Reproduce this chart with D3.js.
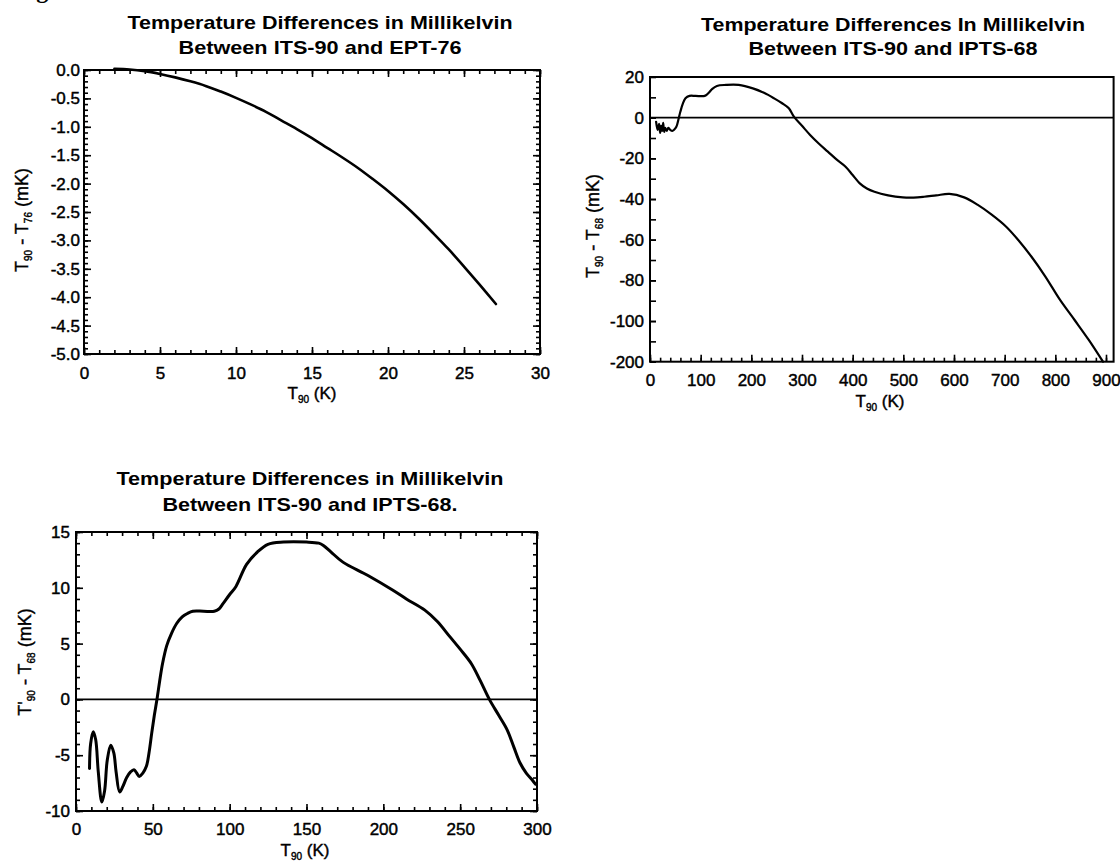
<!DOCTYPE html>
<html>
<head>
<meta charset="utf-8">
<script src="https://cdn.jsdelivr.net/npm/d3@7"></script>
<style>
  body { margin: 0; background: #fff; }
  svg { display: block; font-family: "Liberation Sans", Arial, sans-serif; }
</style>
</head>
<body>
<svg id="chart" width="1120" height="863"></svg>
<script>
// ITS-90 minus EPT-76 (mK), 0..30 K
const eptTemps = [2, 3, 4, 5, 6, 7, 8, 9, 10, 11, 12, 13, 14, 15, 16, 17, 18, 19, 20, 21, 22, 23, 24, 25, 26, 27.1];
const eptDiffs = [0.02, 0.01, -0.02, -0.07, -0.13, -0.2, -0.28, -0.38, -0.49, -0.61, -0.74, -0.89, -1.04, -1.2,
    -1.37, -1.54, -1.72, -1.92, -2.13, -2.36, -2.61, -2.88, -3.16, -3.46, -3.77, -4.12];

// ITS-90 minus IPTS-68 (mK), 0..900 K
const iptsTemps = [12, 15, 18, 20, 22, 24, 26, 28, 30, 33, 36, 40, 44, 48, 52, 56, 60, 65, 70, 78, 90, 108, 115,
    123, 132, 150, 175, 203, 225, 245, 260, 274, 284, 300, 316, 333, 351, 368, 386, 400, 414, 428, 443, 470, 499,
    520, 541, 565, 591, 620, 647, 675, 703, 728, 753, 780, 809, 838, 866, 894];
const iptsDiffs = [-2, -6, -3, -7.5, -4, -6.5, -2.5, -7, -5, -6.5, -5, -6, -6.5, -5.8, -4.5, -1, 3, 7, 9.5, 10.7,
    10.7, 10.7, 12, 14.2, 15.6, 16.1, 16.1, 14.4, 12.2, 9.5, 7.2, 4.6, 0.5, -4, -8.5, -12.7, -16.7, -20.5, -24.1,
    -28.2, -32.3, -34.8, -36.4, -38.2, -39.2, -39.3, -38.9, -38.2, -37.5, -39.2, -42.9, -47.8, -53.6, -60.5,
    -68.4, -78, -89.5, -99.5, -109.3, -120];

// T'90 minus IPTS-68 (mK), 0..300 K
const lowTemps = [8.8, 9.5, 11.2, 12.8, 14.5, 16.8, 18.6, 20.3, 22.6, 24.6, 26.1, 28.4, 30.5, 33, 35.5, 37.7,
    39.5, 41.2, 43.5, 45.8, 47.5, 49.3, 51, 52.8, 54.5, 56.3, 59, 62.1, 65.5, 69.1, 72.5, 76, 83, 90, 93, 95.8,
    100, 104, 111, 118, 124.9, 135, 150, 158, 161, 166, 173.7, 190, 206, 215, 227, 235, 243.4, 250, 257.3, 263,
    269, 275, 280.5, 285, 289, 293, 296.8, 299];
const lowDiffs = [-6.2, -4.0, -2.9, -3.6, -6.5, -9.2, -8.2, -5.5, -4.1, -4.8, -6.5, -8.3, -7.8, -7.0, -6.5, -6.3,
    -6.6, -6.9, -6.6, -6.0, -4.8, -3.0, -1.4, 0.1, 1.7, 3.2, 4.8, 5.9, 6.8, 7.4, 7.7, 7.9, 7.9, 7.9, 8.1, 8.6,
    9.4, 10.1, 12.1, 13.2, 13.9, 14.1, 14.1, 14.0, 13.8, 13.2, 12.3, 11.1, 9.8, 9.0, 8.0, 7.0, 5.6, 4.5, 3.2,
    1.7, 0.0, -1.4, -2.7, -4.3, -5.7, -6.6, -7.2, -7.6];

// tick labels
const eptXTicks = [0, 5, 10, 15, 20, 25, 30];
const eptYTicks = [0, -0.5, -1, -1.5, -2, -2.5, -3, -3.5, -4, -4.5, -5];
const iptsXTicks = [0, 100, 200, 300, 400, 500, 600, 700, 800, 900];
const iptsYTicks = [20, 0, -20, -40, -60, -80, -100, -120];
const iptsYLabels = ['20', '0', '-20', '-40', '-60', '-80', '-100', '-200'];
const lowXTicks = [0, 50, 100, 150, 200, 250, 300];
const lowYTicks = [15, 10, 5, 0, -5, -10];

const svg = d3.select('#chart');

// scrap of the figure caption cut off at the top edge
svg.append('text')
    .attr('x', 15)
    .attr('y', -2)
    .attr('font-family', '"Liberation Serif", serif')
    .attr('font-weight', 'bold')
    .attr('font-size', '24px')
    .text('Fig');

// text with subscripts, parts = [[text, isSub], ...]
const richText = (sel, parts) => {
    let down = false;
    parts.forEach(([s, sub]) => {
        const t = sel.append('tspan').text(s);
        if (sub && !down) { t.attr('dy', 4).attr('font-size', '10px'); down = true; }
        else if (sub) { t.attr('font-size', '10px'); }
        else if (down) { t.attr('dy', -4); down = false; }
    });
};

const styleAxis = (sel, fontSize) => {
    sel.select('.domain').remove();
    sel.selectAll('.tick line').attr('stroke', '#000').attr('stroke-width', 1.6);
    sel.selectAll('.tick text')
        .attr('fill', '#000')
        .attr('stroke', '#000')
        .attr('stroke-width', 0.45)
        .attr('font-size', fontSize)
        .attr('font-family', '"Liberation Sans", Arial, sans-serif');
};

const drawPanel = (p) => {
    const x = d3.scaleLinear().domain(p.xDomain).range(p.xRange);
    const y = d3.scaleLinear().domain(p.yDomain).range(p.yRange);
    const g = svg.append('g');
    const [x0, x1] = p.xRange;
    const [y0, y1] = p.yRange; // y0 bottom, y1 top

    // title
    p.title.forEach((line, i) => {
        g.append('text')
            .attr('x', p.titleX)
            .attr('y', p.titleY[i])
            .attr('text-anchor', 'middle')
            .attr('font-size', '19px')
            .attr('font-weight', 'bold')
            .attr('textLength', p.titleLen[i])
            .attr('lengthAdjust', 'spacingAndGlyphs')
            .text(line);
    });

    // minor ticks
    const minor = (axisFn, scale, vals, len) => axisFn(scale).tickValues(vals).tickSize(-len).tickFormat('');
    const sides = p.sides;
    if (sides.includes('bottom')) {
        g.append('g').attr('transform', `translate(0,${y0})`)
            .call(minor(d3.axisBottom, x, p.xMinor, 4)).call(styleAxis, '17px');
    }
    if (sides.includes('top')) {
        g.append('g').attr('transform', `translate(0,${y1})`)
            .call(minor(d3.axisTop, x, p.xMinor, 4)).call(styleAxis, '17px');
        g.append('g').attr('transform', `translate(0,${y1})`)
            .call(minor(d3.axisTop, x, p.xTicks, 7)).call(styleAxis, '17px');
    }
    if (sides.includes('left')) {
        g.append('g').attr('transform', `translate(${x0},0)`)
            .call(minor(d3.axisLeft, y, p.yMinor, p.minorLenY || 4)).call(styleAxis, '17px');
    }
    if (sides.includes('right')) {
        g.append('g').attr('transform', `translate(${x1},0)`)
            .call(minor(d3.axisRight, y, p.yMinor, 4)).call(styleAxis, '17px');
        g.append('g').attr('transform', `translate(${x1},0)`)
            .call(minor(d3.axisRight, y, p.yTicks, 7)).call(styleAxis, '17px');
    }

    // labelled axes
    g.append('g').attr('transform', `translate(0,${y0})`)
        .call(d3.axisBottom(x).tickValues(p.xTicks).tickSize(-7).tickPadding(p.xPad).tickFormat(p.xFmt))
        .call(styleAxis, '17px');
    g.append('g').attr('transform', `translate(${x0},0)`)
        .call(d3.axisLeft(y).tickValues(p.yTicks).tickSize(-(p.majorLenY || 7)).tickPadding(p.yPad).tickFormat(p.yFmt))
        .call(styleAxis, '17px');

    // frame
    g.append('rect')
        .attr('x', x0).attr('y', y1)
        .attr('width', x1 - x0).attr('height', y0 - y1)
        .attr('fill', 'none').attr('stroke', '#000').attr('stroke-width', 2);

    if (p.zeroLine) {
        g.append('line')
            .attr('x1', x0).attr('x2', x1)
            .attr('y1', y(0)).attr('y2', y(0))
            .attr('stroke', '#000').attr('stroke-width', 1.6);
    }

    // curve
    const line = d3.line()
        .x((d) => x(d[0]))
        .y((d) => y(d[1]))
        .curve(d3.curveCatmullRom.alpha(0.5));
    g.append('path')
        .datum(d3.zip(p.temps, p.diffs))
        .attr('d', line)
        .attr('fill', 'none')
        .attr('stroke', '#000')
        .attr('stroke-width', p.lineWidth)
        .attr('stroke-linejoin', 'round')
        .attr('stroke-linecap', 'round');

    // axis titles
    const xt = g.append('text')
        .attr('x', p.xTitle[0]).attr('y', p.xTitle[1])
        .attr('text-anchor', 'middle')
        .attr('font-size', '17px')
        .attr('stroke', '#000').attr('stroke-width', 0.4);
    richText(xt, [['T', false], ['90', true], [' (K)', false]]);

    const yt = g.append('text')
        .attr('transform', `translate(${p.yTitle[0]},${p.yTitle[1]}) rotate(-90)`)
        .attr('text-anchor', 'middle')
        .attr('font-size', '18px')
        .attr('stroke', '#000').attr('stroke-width', 0.4);
    richText(yt, p.yTitleParts);
};

drawPanel({
    title: ['Temperature Differences in Millikelvin', 'Between ITS-90 and EPT-76'],
    titleX: 320, titleY: [29, 54], titleLen: [385, 283],
    xDomain: [0, 30], xRange: [84, 540],
    yDomain: [-5, 0], yRange: [354, 70],
    xTicks: eptXTicks, xMinor: d3.range(0, 31, 1),
    yTicks: eptYTicks, yMinor: d3.range(-50, 1).map((d) => d / 10),
    xFmt: (d) => d, yFmt: (d) => d.toFixed(1),
    xPad: 13, yPad: 4,
    sides: ['bottom', 'top', 'left', 'right'],
    temps: eptTemps, diffs: eptDiffs, lineWidth: 2.6,
    xTitle: [312, 399], yTitle: [28, 220],
    yTitleParts: [['T', false], ['90', true], [' - T', false], ['76', true], [' (mK)', false]]
});

drawPanel({
    title: ['Temperature Differences In Millikelvin', 'Between ITS-90 and IPTS-68'],
    titleX: 893, titleY: [31, 55], titleLen: [384, 289],
    xDomain: [0, 915], xRange: [650, 1113.6],
    yDomain: [-120, 20], yRange: [361.7, 77],
    xTicks: iptsXTicks, xMinor: d3.range(0, 901, 20),
    yTicks: iptsYTicks, yMinor: d3.range(-110, 20, 10),
    xFmt: (d) => d, yFmt: (d) => iptsYLabels[iptsYTicks.indexOf(d)],
    xPad: 12, yPad: 6, majorLenY: 6, minorLenY: 6,
    sides: ['bottom', 'left'],
    zeroLine: true,
    temps: iptsTemps, diffs: iptsDiffs, lineWidth: 2.2,
    xTitle: [880, 407], yTitle: [599, 226],
    yTitleParts: [['T', false], ['90', true], [' - T', false], ['68', true], [' (mK)', false]]
});

drawPanel({
    title: ['Temperature Differences in Millikelvin', 'Between ITS-90 and IPTS-68.'],
    titleX: 310, titleY: [485, 511], titleLen: [387, 295],
    xDomain: [0, 300], xRange: [76, 537],
    yDomain: [-10, 15], yRange: [811, 532],
    xTicks: lowXTicks, xMinor: d3.range(0, 301, 10),
    yTicks: lowYTicks, yMinor: d3.range(-10, 16, 1),
    xFmt: (d) => d, yFmt: (d) => d,
    xPad: 12, yPad: 6,
    sides: ['bottom', 'top', 'left', 'right'],
    zeroLine: true,
    temps: lowTemps, diffs: lowDiffs, lineWidth: 3,
    xTitle: [305, 856], yTitle: [31, 662],
    yTitleParts: [["T'", false], ['90', true], [' - T', false], ['68', true], [' (mK)', false]]
});
</script>
</body>
</html>
